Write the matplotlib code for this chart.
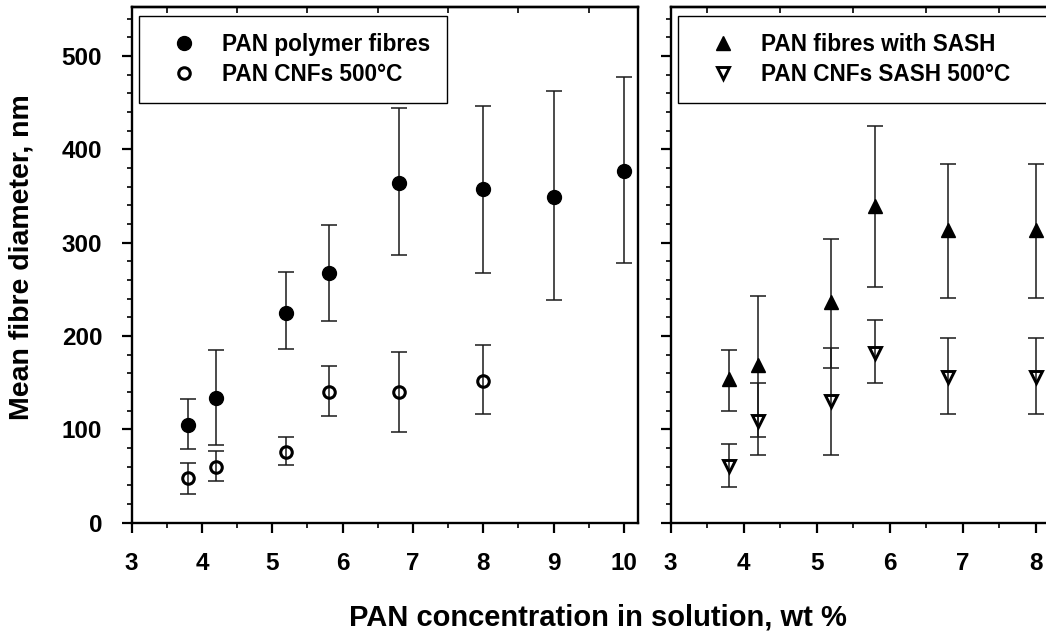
import matplotlib
matplotlib.use('Agg')
import matplotlib.pyplot as plt
import numpy as np
from matplotlib.ticker import MultipleLocator

plt.rcParams['font.family'] = ['Liberation Sans', 'DejaVu Sans']
plt.rcParams['font.weight'] = 'bold'

# left panel: PAN fibres and CNFs
conc_pan = [3.8, 4.2, 5.2, 5.8, 6.8, 8.0, 9.0, 10.0]
pan_mean = [105, 134, 225, 267, 364, 357, 349, 377]
pan_hi = [133, 185, 268, 319, 444, 446, 462, 477]
pan_lo = [79, 83, 186, 216, 287, 267, 239, 278]

conc_cnf = [3.8, 4.2, 5.2, 5.8, 6.8, 8.0]
cnf_mean = [48, 60, 76, 140, 140, 152]
cnf_hi = [64, 77, 92, 168, 183, 190]
cnf_lo = [31, 45, 62, 114, 97, 116]

# right panel: with SASH
conc_sash = [3.8, 4.2, 5.2, 5.8, 6.8, 8.0]
sash_mean = [154, 169, 236, 339, 313, 313]
sash_hi = [185, 243, 304, 425, 384, 384]
sash_lo = [120, 92, 166, 252, 241, 241]
cnfsash_mean = [61, 109, 130, 182, 156, 156]
cnfsash_hi = [84, 150, 187, 217, 198, 198]
cnfsash_lo = [38, 73, 73, 150, 116, 116]

labels_left = ['PAN polymer fibres', 'PAN CNFs 500°C']
labels_right = ['PAN fibres with SASH', 'PAN CNFs SASH 500°C']
xticks_left = [3, 4, 5, 6, 7, 8, 9, 10]
xticks_right = [3, 4, 5, 6, 7, 8]


def err(mean, hi, lo):
    m = np.array(mean, dtype=float)
    return [m - np.array(lo), np.array(hi) - m]


W, H = 1046, 639
fig = plt.figure(figsize=(W / 100, H / 100), dpi=100)
ax1 = fig.add_axes([131.7 / W, 1 - 522.7 / H, (638 - 131.7) / W, 515.4 / H])
ax2 = fig.add_axes([670.7 / W, 1 - 522.7 / H, 7.2 * 73 / W, 515.4 / H])

ebkw = dict(ecolor='#1a1a1a', elinewidth=1.1, capsize=5.8, capthick=1.1, ls='none')

e1 = ax1.errorbar(conc_pan, pan_mean, yerr=err(pan_mean, pan_hi, pan_lo), fmt='o', ms=10,
                  mfc='black', mec='black', **ebkw)
e2 = ax1.errorbar(conc_cnf, cnf_mean, yerr=err(cnf_mean, cnf_hi, cnf_lo), fmt='o', ms=8.3,
                  mfc='none', mec='black', **ebkw)
e3 = ax2.errorbar(conc_sash, sash_mean, yerr=err(sash_mean, sash_hi, sash_lo), fmt='^', ms=9.5,
                  mfc='black', mec='black', **ebkw)
e4 = ax2.errorbar(conc_sash, cnfsash_mean, yerr=err(cnfsash_mean, cnfsash_hi, cnfsash_lo), fmt='v',
                  ms=9.3, mfc='none', mec='black', **ebkw)
# thick outlines only on the open symbols, not on the caps
e2[0].set_markeredgewidth(2.2)
e4[0].set_markeredgewidth(2.1)
e3[0].set_markeredgewidth(1.0)

for ax, xt in ((ax1, xticks_left), (ax2, xticks_right)):
    ax.set_xlim(3, 10.2)
    ax.set_ylim(0, 552)
    ax.set_xticks(xt)
    ax.xaxis.set_minor_locator(MultipleLocator(0.5))
    ax.yaxis.set_major_locator(MultipleLocator(100))
    ax.yaxis.set_minor_locator(MultipleLocator(20))
    ax.tick_params(which='major', direction='out', length=7.2, width=1.6, labelsize=17.5, pad=14,
                   top=False, right=False)
    ax.tick_params(which='minor', direction='out', length=3.5, width=1.2, top=False, right=False)
    for s in ax.spines.values():
        s.set_linewidth(1.7)
    sec = ax.secondary_xaxis('top')
    sec.set_xticks([])
    sec.set_xticks(np.arange(3.5, 10.2, 1.0), minor=True)
    sec.tick_params(which='minor', direction='in', length=4, width=1.2)
    sec.spines['top'].set_linewidth(1.7)

ax2.tick_params(axis='y', labelleft=False)

legkw = dict(loc='upper left', mode='expand', borderaxespad=0, fancybox=False, edgecolor='black',
             framealpha=1, fontsize=16.3, borderpad=0.75, labelspacing=0.3, handlelength=2.45,
             handletextpad=0.48, numpoints=1)
lg1 = ax1.legend([e1[0], e2[0]], labels_left, bbox_to_anchor=(7.3 / 506.3, 0, 308 / 506.3, 1 - 9 / 515.4),
                 **legkw)
lg2 = ax2.legend([e3[0], e4[0]], labels_right, bbox_to_anchor=(7.3 / 525.6, 0, 420 / 525.6, 1 - 9 / 515.4),
                 **legkw)
for lg in (lg1, lg2):
    lg.get_frame().set_linewidth(1.0)

fig.text(22 / W, 1 - 257 / H, 'Mean fibre diameter, nm', rotation=90, ha='center', va='center',
         fontsize=20.5, fontweight='bold')
fig.text(598 / W, 1 - 617 / H, 'PAN concentration in solution, wt %', ha='center', va='center',
         fontsize=21, fontweight='bold')

fig.savefig('out.png', dpi=100)
